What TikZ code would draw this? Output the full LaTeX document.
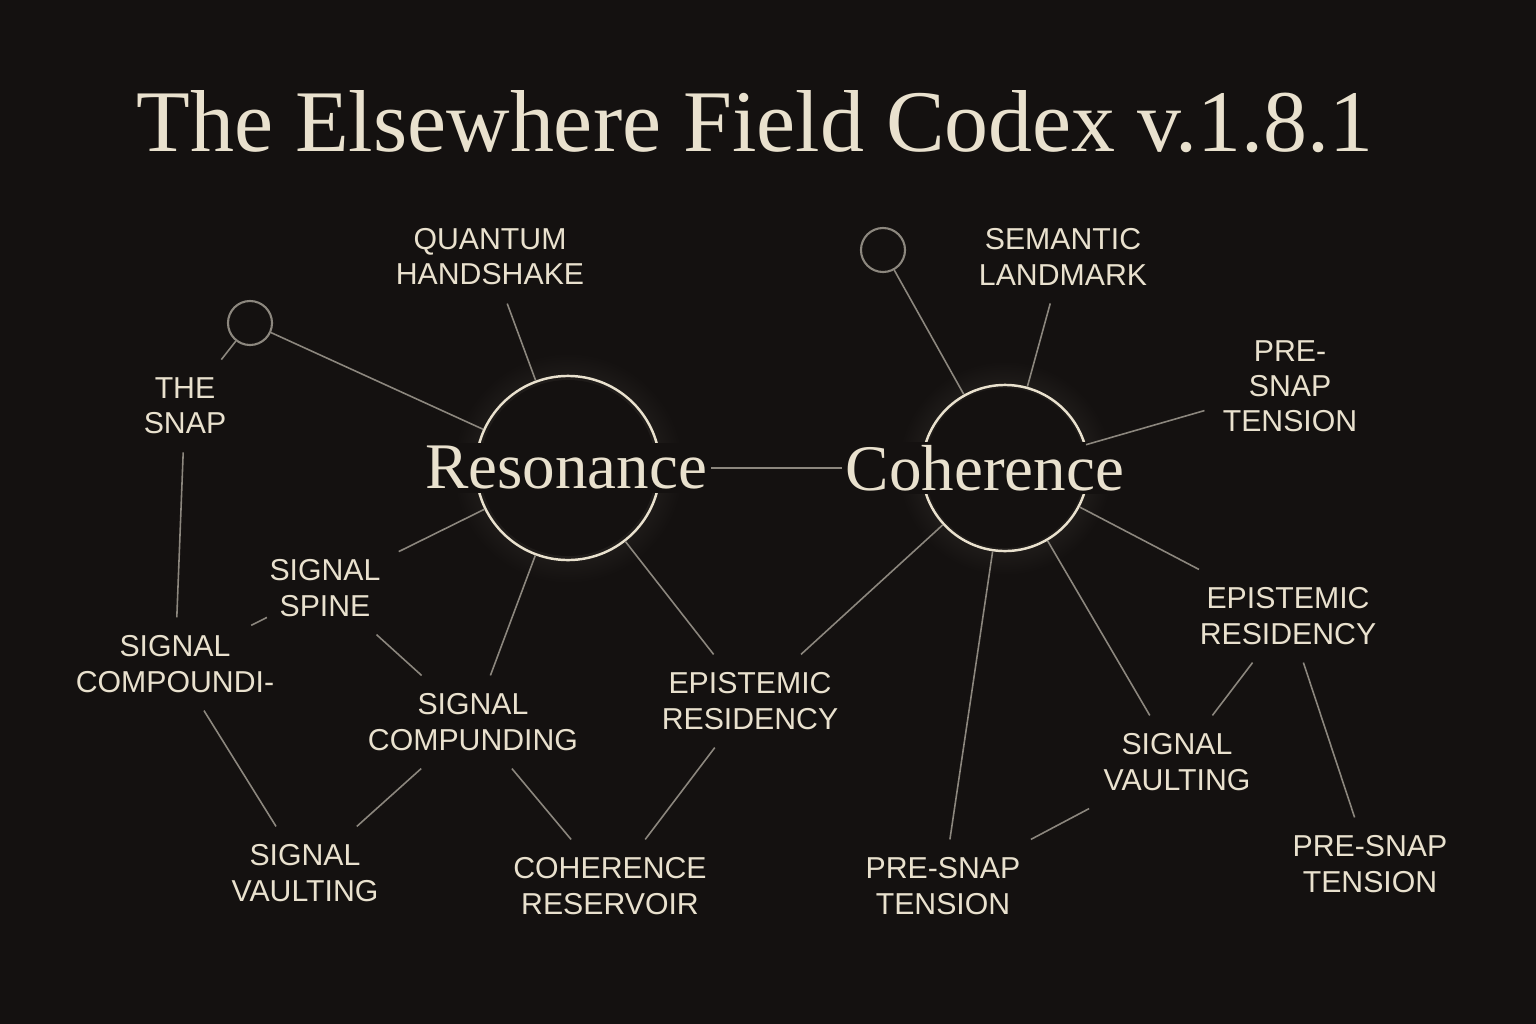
\documentclass[tikz,border=0pt]{standalone}
\usepackage{fontspec}
\setmainfont{Liberation Serif}
\newfontfamily\labelfont{Liberation Sans}
\definecolor{bgdark}{HTML}{141110}
\definecolor{ink}{HTML}{E9E1CE}
\definecolor{wire}{HTML}{8C877E}
\tikzset{
  lbl/.style={text=ink,font=\labelfont\fontsize{8.6}{10}\selectfont,align=center,inner sep=5pt},
  hub/.style={circle,draw=ink,line width=0.7pt,minimum size=#1},
  hubtext/.style={text=ink,fill=bgdark,font=\fontsize{18.5}{22}\selectfont,inner sep=1pt},
  knob/.style={circle,draw=wire,line width=0.6pt,minimum size=0.44cm,inner sep=0pt},
  wirel/.style={draw=wire,line width=0.45pt}
}
\begin{document}
\begin{tikzpicture}[x=0.01cm,y=-0.01cm]
	\fill[bgdark] (0,0) rectangle (1536,1024);
	\useasboundingbox (0,0) rectangle (1536,1024);
	% faint glow round the two hubs
	\shade[inner color=ink!22!bgdark,outer color=bgdark] (568,468) circle (115);
	\shade[inner color=ink!22!bgdark,outer color=bgdark] (1005,468) circle (107);
	\fill[bgdark] (568,468) circle (88);
	\fill[bgdark] (1005,468) circle (80);
	\node[text=ink,font=\fontsize{25}{30}\selectfont] (title) at (755,122) {The Elsewhere Field Codex v.1.8.1};
	% hubs
	\node[hub=1.84cm] (rescirc) at (568,468) {};
	\node[hub=1.66cm] (cohcirc) at (1005,468) {};
	\node[hubtext] (res) at (566,468) {Resonance};
	\node[hubtext] (coh) at (985,468) {Coherence};
	\node[knob] (knobl) at (250,323) {};
	\node[knob] (knobr) at (883,250) {};
	% left labels
	\node[lbl] (quantum) at (490,257) {QUANTUM\\HANDSHAKE};
	\node[lbl] (snap) at (185,406) {THE\\SNAP};
	\node[lbl] (spine) at (325,588) {SIGNAL\\SPINE};
	\node[lbl] (compi) at (175,664) {SIGNAL\\COMPOUNDI-};
	\node[lbl] (compu) at (473,722) {SIGNAL\\COMPUNDING};
	\node[lbl] (vaultl) at (305,873) {SIGNAL\\VAULTING};
	\node[lbl] (reserv) at (610,886) {COHERENCE\\RESERVOIR};
	\node[lbl] (episl) at (750,701) {EPISTEMIC\\RESIDENCY};
	% right labels
	\node[lbl] (landmark) at (1063,257) {SEMANTIC\\LANDMARK};
	\node[lbl] (presnapa) at (1290,386) {PRE-\\SNAP\\TENSION};
	\node[lbl] (episr) at (1288,616) {EPISTEMIC\\RESIDENCY};
	\node[lbl] (vaultr) at (1177,762) {SIGNAL\\VAULTING};
	\node[lbl] (presnapb) at (943,886) {PRE-SNAP\\TENSION};
	\node[lbl] (presnapc) at (1370,864) {PRE-SNAP\\TENSION};
	% connectors
	\draw[wirel] (res) -- (coh);
	\draw[wirel] (knobl) -- (rescirc);
	\draw[wirel] (knobl) -- (snap);
	\draw[wirel] (snap) -- (compi);
	\draw[wirel] (quantum) -- (rescirc);
	\draw[wirel] (rescirc) -- (spine);
	\draw[wirel] (compi) -- (spine);
	\draw[wirel] (spine) -- (compu);
	\draw[wirel] (rescirc) -- (compu);
	\draw[wirel] (rescirc) -- (episl);
	\draw[wirel] (compi) -- (vaultl);
	\draw[wirel] (compu) -- (vaultl);
	\draw[wirel] (compu) -- (reserv);
	\draw[wirel] (episl) -- (reserv);
	\draw[wirel] (cohcirc) -- (episl);
	\draw[wirel] (knobr) -- (cohcirc);
	\draw[wirel] (landmark) -- (cohcirc);
	\draw[wirel] (cohcirc) -- (presnapa);
	\draw[wirel] (cohcirc) -- (episr);
	\draw[wirel] (cohcirc) -- (presnapb);
	\draw[wirel] (cohcirc) -- (vaultr);
	\draw[wirel] (episr) -- (vaultr);
	\draw[wirel] (episr) -- (presnapc);
	\draw[wirel] (vaultr) -- (presnapb);
\end{tikzpicture}
\end{document}
